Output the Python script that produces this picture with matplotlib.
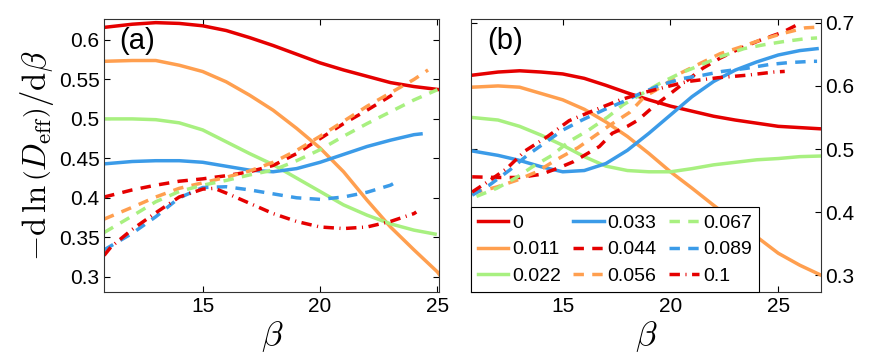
import matplotlib
matplotlib.use("Agg")
import matplotlib.pyplot as plt
from matplotlib.ticker import FuncFormatter

plt.rcParams['font.family'] = ['Liberation Sans', 'DejaVu Sans']
plt.rcParams['mathtext.fontset'] = 'cm'

labels = ['0', '0.011', '0.022', '0.033', '0.044', '0.056', '0.067', '0.089', '0.1']
colors = ['#e50000', '#ff9f4f', '#a8f080', '#3b9be8', '#e50000', '#ff9f4f', '#a8f080', '#3b9be8', '#e50000']
styles = ['-', '-', '-', '-', 'dash', 'dash', 'dash', 'dash', 'dashdot']

# panel (a)
a_x = [
    [10.8, 12, 13, 14, 15, 16, 17, 18, 19, 20, 21, 22, 23, 24, 25.1],
    [10.8, 12, 13, 14, 15, 16, 17, 18, 19, 20, 21, 22, 23, 24, 25, 25.1],
    [10.8, 12, 13, 14, 15, 16, 17, 18, 19, 20, 21, 22, 23, 24, 24.9],
    [10.8, 12, 13, 14, 15, 16, 17, 18, 19, 20, 21, 22, 23, 24, 24.3],
    [10.8, 12, 13, 14, 15, 16, 17, 18, 19, 20, 21, 22, 23, 23.3],
    [10.8, 12, 13, 14, 15, 16, 17, 18, 19, 20, 21, 22, 23, 24, 24.6],
    [10.8, 12, 13, 14, 15, 16, 17, 18, 19, 20, 21, 22, 23, 24, 25],
    [10.8, 12, 13, 14, 15, 16, 17, 18, 19, 20, 21, 22, 23, 23.3],
    [10.8, 11.1, 12, 13, 14, 15, 15.5, 16, 17, 18, 19, 20, 21, 22, 23, 24, 24.1],
]
a_y = [
    [0.616, 0.620, 0.622, 0.621, 0.618, 0.612, 0.603, 0.593, 0.582, 0.571, 0.562, 0.554, 0.546, 0.541, 0.537],
    [0.573, 0.574, 0.574, 0.568, 0.560, 0.547, 0.530, 0.511, 0.488, 0.463, 0.433, 0.397, 0.363, 0.334, 0.306, 0.302],
    [0.500, 0.500, 0.499, 0.495, 0.486, 0.471, 0.456, 0.442, 0.425, 0.408, 0.391, 0.378, 0.367, 0.359, 0.354],
    [0.443, 0.446, 0.447, 0.447, 0.445, 0.440, 0.435, 0.433, 0.437, 0.445, 0.455, 0.465, 0.473, 0.480, 0.481],
    [0.401, 0.410, 0.416, 0.421, 0.424, 0.428, 0.433, 0.441, 0.456, 0.475, 0.494, 0.511, 0.529, 0.535],
    [0.373, 0.388, 0.401, 0.412, 0.419, 0.426, 0.434, 0.445, 0.460, 0.478, 0.497, 0.516, 0.533, 0.550, 0.562],
    [0.356, 0.377, 0.395, 0.408, 0.416, 0.422, 0.429, 0.435, 0.447, 0.461, 0.478, 0.494, 0.509, 0.524, 0.537],
    [0.334, 0.355, 0.376, 0.400, 0.413, 0.414, 0.410, 0.405, 0.400, 0.398, 0.401, 0.407, 0.416, 0.421],
    [0.327, 0.338, 0.360, 0.381, 0.401, 0.411, 0.412, 0.406, 0.393, 0.380, 0.370, 0.363, 0.361, 0.363, 0.370, 0.380, 0.382],
]

# panel (b)
b_x = [
    [10.8, 12, 13, 14, 15, 16, 17, 18, 19, 20, 21, 22, 23, 24, 25, 26, 27],
    [10.8, 12, 13, 14, 15, 16, 17, 18, 19, 20, 21, 22, 23, 24, 25, 26, 27],
    [10.8, 12, 13, 14, 15, 16, 17, 18, 19, 20, 21, 22, 23, 24, 25, 26, 27],
    [10.8, 12, 13, 14, 15, 16, 17, 18, 19, 20, 21, 22, 23, 24, 25, 26, 26.8],
    [10.8, 12, 13, 14, 14.8, 15.5, 16, 16.7, 17.3, 18, 18.5, 19.2, 20, 20.6, 21.5, 22.3, 23.2, 24.2, 25.2, 26.0],
    [10.8, 11.95, 12.9, 13.8, 14.7, 15.7, 17.2, 18.1, 18.8, 19.7, 20.45, 21.4, 22.3, 23.2, 24.2, 25.2, 26.25, 26.8],
    [11.0, 11.95, 12.9, 13.6, 14.5, 15.3, 16.2, 17.1, 17.8, 19.5, 20.45, 21.4, 22.3, 23.4, 24.3, 25.2, 26.3, 26.8],
    [10.8, 11.6, 12.55, 13.35, 15.0, 15.9, 16.9, 17.8, 18.6, 19.5, 20.6, 21.5, 22.4, 23.55, 24.6, 25.5, 26.6, 26.8],
    [10.8, 11.6, 12.4, 13.25, 14.3, 15.3, 16.5, 17.6, 18.6, 19.85, 20.8, 22.2, 23.55, 24.8, 25.3],
]
b_y = [
    [0.617, 0.622, 0.624, 0.622, 0.619, 0.612, 0.601, 0.589, 0.578, 0.568, 0.560, 0.552, 0.546, 0.541, 0.536, 0.534, 0.532],
    [0.598, 0.600, 0.598, 0.588, 0.578, 0.563, 0.543, 0.520, 0.493, 0.464, 0.438, 0.411, 0.385, 0.361, 0.335, 0.316, 0.300],
    [0.550, 0.546, 0.536, 0.522, 0.506, 0.488, 0.473, 0.466, 0.464, 0.464, 0.469, 0.475, 0.479, 0.483, 0.485, 0.488, 0.489],
    [0.497, 0.490, 0.482, 0.472, 0.464, 0.466, 0.477, 0.498, 0.525, 0.554, 0.583, 0.607, 0.625, 0.638, 0.649, 0.656, 0.659],
    [0.456, 0.455, 0.455, 0.460, 0.470, 0.480, 0.490, 0.504, 0.525, 0.536, 0.546, 0.567, 0.588, 0.604, 0.628, 0.644, 0.659, 0.673, 0.685, 0.699],
    [0.430, 0.440, 0.451, 0.464, 0.483, 0.502, 0.538, 0.558, 0.583, 0.601, 0.620, 0.636, 0.651, 0.661, 0.673, 0.683, 0.692, 0.693],
    [0.425, 0.438, 0.456, 0.472, 0.490, 0.512, 0.530, 0.551, 0.570, 0.604, 0.620, 0.633, 0.646, 0.659, 0.665, 0.670, 0.675, 0.676],
    [0.427, 0.443, 0.467, 0.490, 0.530, 0.546, 0.562, 0.575, 0.588, 0.601, 0.612, 0.617, 0.623, 0.628, 0.634, 0.637, 0.639, 0.639],
    [0.432, 0.450, 0.469, 0.497, 0.520, 0.545, 0.562, 0.577, 0.588, 0.599, 0.607, 0.613, 0.617, 0.622, 0.623],
]


def draw(ax, xs, ys):
    lines = []
    for x, y, c, s, lab in zip(xs, ys, colors, styles, labels):
        if s == 'dash':
            ln, = ax.plot(x, y, color=c, lw=2.5, label=lab, dashes=(3.0, 2.4))
        elif s == 'dashdot':
            ln, = ax.plot(x, y, color=c, lw=2.5, label=lab, dashes=(3.0, 1.6, 0.3, 1.6))
        else:
            ln, = ax.plot(x, y, color=c, lw=2.5, label=lab)
        lines.append(ln)
    ax.tick_params(direction='in', top=True, right=True, labelsize=15, length=4, width=0.8)
    ax.set_xticks([15, 20, 25])
    ax.set_xlabel(r'$\beta$', fontsize=25, labelpad=2)
    for sp in ax.spines.values():
        sp.set_linewidth(0.8)
        sp.set_color('#333333')
    return lines


fmt = FuncFormatter(lambda v, p: '%g' % round(v, 3))

fig = plt.figure(figsize=(8.72, 3.6), dpi=100)
ax1 = fig.add_axes([0.1197, 0.1889, 0.3841, 0.7583])
ax2 = fig.add_axes([0.5405, 0.1889, 0.4007, 0.7583])

draw(ax1, a_x, a_y)
ax1.set_xlim(10.81, 25.08)
ax1.set_ylim(0.2806, 0.6266)
ax1.set_yticks([0.3, 0.35, 0.4, 0.45, 0.5, 0.55, 0.6])
ax1.yaxis.set_major_formatter(fmt)
ax1.set_ylabel(r'$-\mathrm{d}\,\ln\left(D_{\mathrm{eff}}\right)/\mathrm{d}\beta$', fontsize=23.5, labelpad=2)
ax1.text(0.045, 0.97, '(a)', transform=ax1.transAxes, fontsize=21, ha='left', va='top')

lines = draw(ax2, b_x, b_y)
ax2.set_xlim(10.76, 26.97)
ax2.set_ylim(0.2736, 0.706)
ax2.set_yticks([0.3, 0.4, 0.5, 0.6, 0.7])
ax2.yaxis.set_major_formatter(fmt)
ax2.yaxis.tick_right()
ax2.tick_params(left=True, labelleft=False, labelright=True)
ax2.text(0.045, 0.97, '(b)', transform=ax2.transAxes, fontsize=21, ha='left', va='top')

leg = ax2.legend(handles=lines, ncol=3, loc='lower left', fontsize=14, frameon=True,
                 fancybox=False, framealpha=1, edgecolor='black', borderaxespad=0,
                 handlelength=1.55, handletextpad=0.2, columnspacing=0.64,
                 labelspacing=0.47, borderpad=0.35)
leg.get_frame().set_linewidth(0.8)

fig.savefig('out.png', dpi=100)
